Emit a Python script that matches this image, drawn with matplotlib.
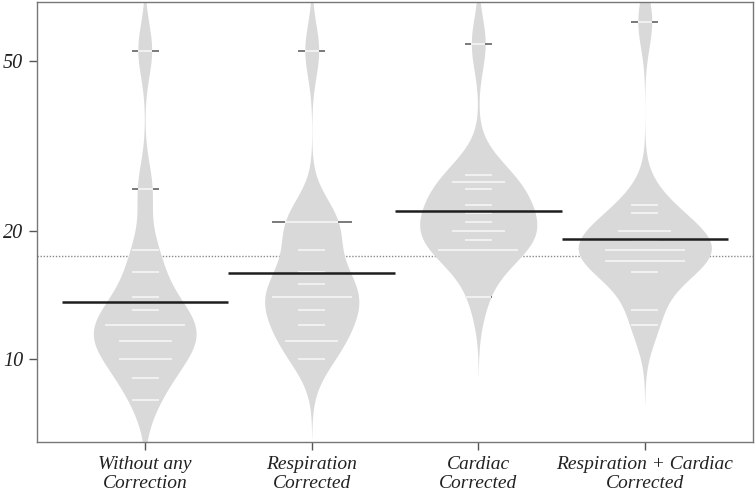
import numpy as np
import matplotlib
matplotlib.use("Agg")
import matplotlib.pyplot as plt

# ---- data ----
categories = ["Without any\nCorrection", "Respiration\nCorrected",
              "Cardiac\nCorrected", "Respiration + Cardiac\nCorrected"]
without_corr = [53, 25, 18, 16, 14, 13, 12, 12, 12, 11, 11, 10, 10, 9, 8]
resp_corr = [53, 21, 21, 21, 18, 16, 15, 14, 14, 14, 13, 12, 11, 11, 10]
card_corr = [55, 27, 26, 26, 25, 23, 22, 21, 20, 20, 19, 18, 18, 18, 14]
resp_card_corr = [62, 23, 22, 20, 20, 19, 18, 18, 18, 17, 17, 17, 16, 13, 12]
series = [without_corr, resp_corr, card_corr, resp_card_corr]
yticks = [10, 20, 50]

# ---- style ----
BEAN_COL = "#d9d9d9"
LINE_IN = "#f4f4f4"
LINE_OUT = "#7a7a7a"
MEAN_COL = "#1e1e1e"
BW = 0.062         # kernel sd in log10 units
CUT = 3.0
MAXWIDTH = 0.8
LL = 0.16

fig = plt.figure(figsize=(7.56, 4.97), dpi=100)
ax = fig.add_axes([37/756, 1-442/497, (753-37)/756, (442-2)/497])
ax.set_yscale("log")
ax.set_ylim(6.38, 68.9)
ax.set_xlim(0.35, 4.65)

# densities
dens = []
for vals in series:
    lv = np.log10(np.asarray(vals, float))
    g = np.linspace(lv.min() - CUT*BW, lv.max() + CUT*BW, 600)
    d = np.exp(-0.5*((g[:, None]-lv[None, :])/BW)**2).sum(1) / (len(lv)*BW*np.sqrt(2*np.pi))
    dens.append((g, d))
scale = (MAXWIDTH/2) / max(d.max() for _, d in dens)

for i, (vals, (g, d)) in enumerate(zip(series, dens)):
    pos = i + 1
    hw = d*scale
    yv = 10**g
    ax.fill_betweenx(yv, pos-hw, pos+hw, color=BEAN_COL, lw=0, zorder=1)
    u, c = np.unique(vals, return_counts=True)
    for val, cnt in zip(u, c):
        half = LL*cnt/2
        w = np.interp(np.log10(val), g, hw)
        ax.plot([pos-half, pos+half], [val, val], color=LINE_OUT, lw=1.4,
                solid_capstyle="butt", zorder=2)
        wi = min(half, w)
        ax.plot([pos-wi, pos+wi], [val, val], color=LINE_IN, lw=1.4,
                solid_capstyle="butt", zorder=3)
    gm = 10**np.mean(np.log10(vals))
    ax.plot([pos-0.5, pos+0.5], [gm, gm], color=MEAN_COL, lw=1.8,
            solid_capstyle="butt", zorder=4)

allv = np.concatenate([np.asarray(v, float) for v in series])
overall = 10**np.mean(np.log10(allv))
ax.axhline(overall, color="#8a8a8a", lw=1.0, ls=(0, (1, 1.2)), zorder=0.5)

ax.set_yticks(yticks)
ax.set_yticklabels([str(t) for t in yticks])
ax.yaxis.set_minor_locator(matplotlib.ticker.NullLocator())
ax.set_xticks(range(1, 5))
ax.set_xticklabels(categories)
for lab in ax.get_xticklabels() + ax.get_yticklabels():
    lab.set_fontfamily("Liberation Serif")
    lab.set_fontstyle("italic")
    lab.set_fontsize(14.5)
    lab.set_color("#222222")
for lab in ax.get_xticklabels():
    lab.set_linespacing(1.2)
    lab.set_fontsize(14)
ax.tick_params(axis="x", length=6, width=1.0, color="#555555", pad=4)
ax.tick_params(axis="y", length=6, width=1.0, color="#555555", pad=4)
for s in ax.spines.values():
    s.set_color("#777777")
    s.set_linewidth(1.0)

fig.savefig("out.png", dpi=100)
